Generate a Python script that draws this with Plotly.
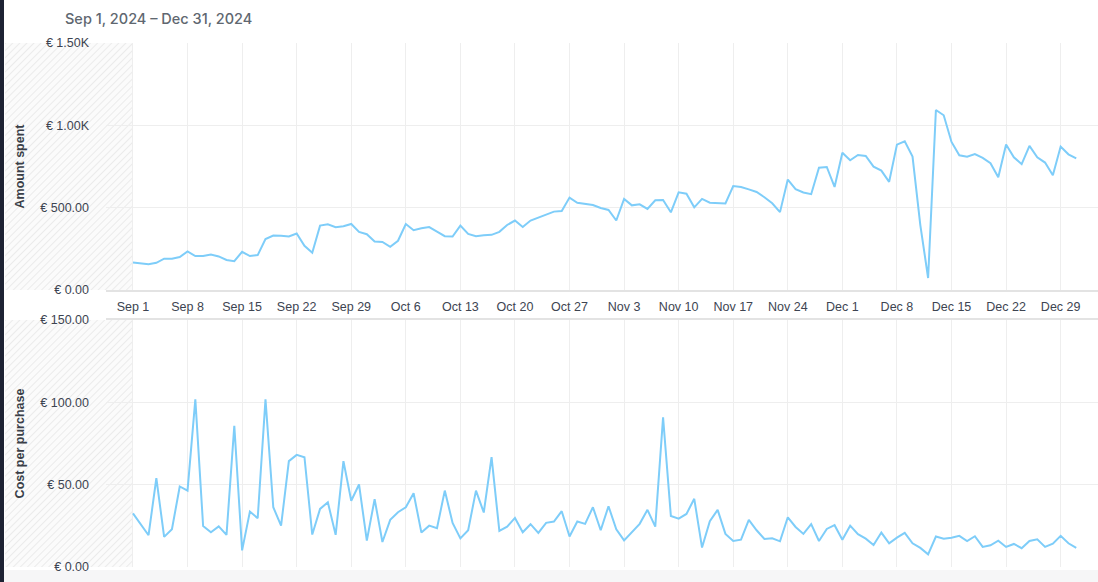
import base64

import pandas as pd
import plotly.graph_objects as go
from plotly.subplots import make_subplots

dates = pd.date_range("2024-09-01", "2024-12-31", freq="D")

amount_spent = [
    # Sep
    167, 161, 157, 165, 190, 190, 200, 234, 206, 206, 216, 204, 182, 175, 232,
    206, 212, 309, 331, 329, 325, 343, 268, 226, 391, 399, 381, 387, 401, 353,
    # Oct
    339, 294, 292, 262, 299, 401, 363, 375, 382, 355, 327, 325, 391, 341, 327,
    333, 335, 353, 395, 422, 383, 422, 440, 460, 476, 480, 561, 530, 524, 516, 498,
    # Nov
    486, 422, 553, 514, 520, 492, 545, 547, 472, 593, 585, 502, 553, 530, 526,
    526, 631, 625, 611, 595, 563, 527, 473, 671, 612, 592, 582, 743, 747, 626,
    # Dec
    834, 788, 820, 814, 749, 725, 657, 883, 903, 810, 394, 73, 1093, 1061, 899,
    818, 810, 826, 802, 770, 685, 883, 806, 764, 875, 806, 774, 697, 871, 824, 800,
]

cost_per_purchase = [
    # Sep
    32.6, 26.2, 19.3, 53.9, 18.3, 22.9, 48.9, 46.4, 101.8, 24.9, 21.1, 24.7, 19.5, 85.8, 10.1,
    33.7, 29.6, 101.8, 36.3, 25.1, 64.3, 68.1, 66.7, 19.7, 35.3, 39.3, 19.5, 64.3, 40.2, 50.1,
    # Oct
    16.0, 41.2, 15.2, 28.6, 33.3, 36.3, 44.8, 20.9, 25.1, 23.5, 46.4, 26.8, 17.4, 22.3, 46.4,
    33.1, 66.7, 21.9, 24.5, 29.8, 21.1, 26.0, 20.7, 26.8, 27.6, 33.9, 18.5, 27.6, 26.2, 36.3, 22.3,
    # Nov
    36.9, 22.9, 16.2, 21.1, 26.2, 34.7, 24.5, 90.9, 31.0, 29.4, 32.2, 41.4, 11.8, 27.8, 34.7,
    20.1, 15.8, 16.6, 28.6, 22.3, 17.0, 17.4, 15.6, 30.2, 24.3, 20.1, 26.0, 15.8, 23.1, 25.4,
    # Dec
    16.6, 25.1, 19.9, 17.2, 13.4, 20.9, 14.4, 17.8, 20.7, 14.4, 11.6, 7.7, 18.5, 17.2, 17.8,
    18.9, 15.8, 18.7, 12.2, 13.2, 16.0, 12.2, 14.0, 11.4, 15.8, 16.8, 12.2, 14.2, 18.9, 14.4, 11.6,
]

week_ticks = pd.date_range("2024-09-01", "2024-12-29", freq="7D")

spent_tickvals = [0, 500, 1000, 1500]
spent_ticktext = ["€ 0.00", "€ 500.00", "€ 1.00K", "€ 1.50K"]
cpp_tickvals = [0, 50, 100, 150]
cpp_ticktext = ["€ 0.00", "€ 50.00", "€ 100.00", "€ 150.00"]

LINE = "#7ecdf9"
GRID = "#eeeeee"
TICK = "#3d4451"

W, H = 1098, 582
ML, MR, MT, MB = 106, 0, 43, 15
PW, PH = W - ML - MR, H - MT - MB


def px_x(p):
    return (p - ML) / PW


def px_y(p):
    return 1 - (p - MT) / PH


# faint diagonal hatch for the "no data" zone on the left
hatch_svg = (
    "<svg xmlns='http://www.w3.org/2000/svg' width='128' height='247'>"
    "<defs><pattern id='h' width='5' height='5' patternUnits='userSpaceOnUse' "
    "patternTransform='rotate(45)'>"
    "<rect width='5' height='5' fill='#fbfbfb'/>"
    "<line x1='0' y1='0' x2='0' y2='5' stroke='#ebebeb' stroke-width='2'/>"
    "</pattern></defs><rect width='100%' height='100%' fill='url(#h)'/></svg>"
)
hatch_src = "data:image/svg+xml;base64," + base64.b64encode(hatch_svg.encode()).decode()

fig = make_subplots(rows=2, cols=1, shared_xaxes=False, vertical_spacing=0)

fig.add_trace(go.Scatter(x=dates, y=amount_spent, mode="lines",
                         line=dict(color=LINE, width=2), name="Amount spent",
                         showlegend=False), row=1, col=1)
fig.add_trace(go.Scatter(x=dates, y=cost_per_purchase, mode="lines",
                         line=dict(color=LINE, width=2), name="Cost per purchase",
                         showlegend=False), row=2, col=1)

xrange = ["2024-08-28 13:00", "2025-01-02 19:00"]
xcommon = dict(
    range=xrange,
    tickvals=list(week_ticks),
    tickformat="%b %-d",
    showgrid=True,
    gridcolor=GRID,
    gridwidth=1,
    zeroline=False,
    ticks="",
    tickfont=dict(family="Liberation Sans, Arial", size=12.5, color=TICK),
)
ycommon = dict(
    showgrid=True,
    gridcolor=GRID,
    zeroline=False,
    ticks="",
    ticklabelstandoff=16,
    tickfont=dict(family="Liberation Sans, Arial", size=12.5, color=TICK),
)

fig.update_layout(
    width=W, height=H,
    margin=dict(l=ML, r=MR, t=MT, b=MB),
    plot_bgcolor="white",
    paper_bgcolor="white",
    xaxis=dict(xcommon, domain=[0, 1], anchor="y", showline=True,
               linecolor="#e3e3e3", linewidth=2, ticklabelstandoff=4),
    xaxis2=dict(xcommon, domain=[0, 1], anchor="y2", side="top", showline=True,
                linecolor="#e3e3e3", linewidth=2, showticklabels=False),
    yaxis=dict(ycommon, domain=[px_y(290), 1], range=[0, 1500],
               tickvals=spent_tickvals, ticktext=spent_ticktext,
               title=dict(text="<b>Amount spent</b>", standoff=12,
                          font=dict(family="Liberation Sans, Arial", size=12.5, color="#3a3f48"))),
    yaxis2=dict(ycommon, domain=[0, px_y(320)], range=[0, 150],
                tickvals=cpp_tickvals, ticktext=cpp_ticktext,
                title=dict(text="<b>Cost per purchase</b>", standoff=12,
                           font=dict(family="Liberation Sans, Arial", size=12.5, color="#3a3f48"))),
    images=[
        dict(source=hatch_src, xref="paper", yref="paper",
             x=px_x(5), y=1, sizex=px_x(133) - px_x(5), sizey=1 - px_y(290),
             xanchor="left", yanchor="top", sizing="stretch", layer="below"),
        dict(source=hatch_src, xref="paper", yref="paper",
             x=px_x(5), y=px_y(320), sizex=px_x(133) - px_x(5), sizey=px_y(320),
             xanchor="left", yanchor="top", sizing="stretch", layer="below"),
    ],
    shapes=[
        # dark window edge on the far left
        dict(type="rect", xref="paper", yref="paper",
             x0=px_x(0), x1=px_x(4), y0=px_y(H), y1=px_y(0),
             fillcolor="#1d2233", line=dict(width=0), layer="above"),
        dict(type="rect", xref="paper", yref="paper",
             x0=px_x(4), x1=1, y0=px_y(H), y1=px_y(570),
             fillcolor="#f6f6f7", line=dict(width=0), layer="below"),
    ],
    annotations=[
        dict(text="Sep 1, 2024 – Dec 31, 2024", xref="paper", yref="paper",
             x=px_x(63), y=px_y(18), xanchor="left", yanchor="middle",
             showarrow=False,
             font=dict(family="Inter, Noto Sans", size=14.5, color="#606770", weight=500)),
    ],
)

# page body has a default 8px margin; drop it so the figure fills the window
fig.write_html("out.html", config={"displayModeBar": False},
               post_script="document.body.style.margin = '0';")
